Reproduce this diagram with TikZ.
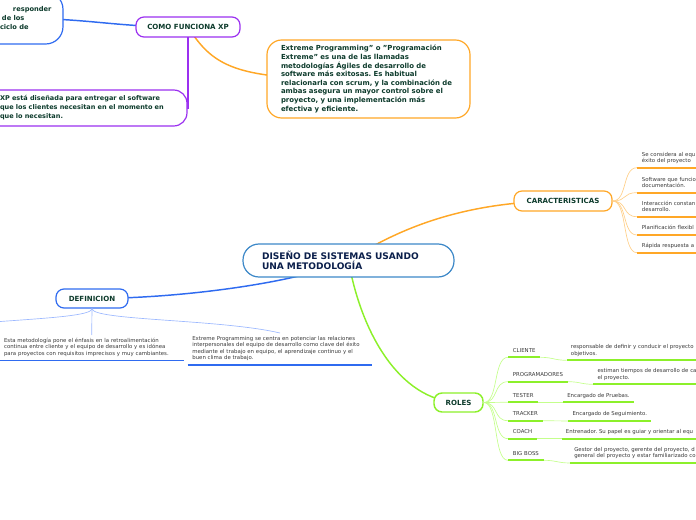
\documentclass[tikz,border=0pt]{standalone}
\usepackage{fontspec}
\setmainfont{DejaVu Sans}
\usetikzlibrary{backgrounds}
\frenchspacing

\definecolor{navy}{HTML}{0B1F4B}
\definecolor{inkgreen}{HTML}{0D3B2C}
\definecolor{txtgray}{HTML}{3A3A3A}
\definecolor{cenblue}{HTML}{3C88C8}
\definecolor{xpblue}{HTML}{2F6BF0}
\definecolor{xppurple}{HTML}{9B30F0}
\definecolor{xporange}{HTML}{FFA726}
\definecolor{xplime}{HTML}{8CF02A}
\definecolor{paleorange}{HTML}{FFD08A}
\definecolor{palelime}{HTML}{C4FF8C}
\definecolor{paleblue}{HTML}{9DB9FF}

\tikzset{
  hub/.style={draw, fill=white, line width=0.9pt, rounded corners=6pt, inner sep=0pt,
    text=inkgreen, font=\fontsize{5.3}{6.5}\selectfont\bfseries},
  note/.style={draw, fill=white, line width=0.9pt, align=left, inner ysep=0pt,
    text=inkgreen, font=\fontsize{5.2}{6.45}\selectfont\bfseries},
  leaf/.style={align=left, inner ysep=2.1pt, execute at end node={\strut},
    text=txtgray, font=\fontsize{4.05}{4.9}\selectfont},
  limb/.style={line width=1.1pt},
  twig/.style={line width=0.5pt},
  uline/.style={line width=1.3pt}
}

\begin{document}
\begin{tikzpicture}[x=0.75pt,y=-0.75pt]
    \useasboundingbox (0,0) rectangle (696,520);
    \clip (0,0) rectangle (696,520);

    % 中心
    \node[hub, draw=cenblue, text=navy, font=\fontsize{6.8}{7.7}\selectfont\bfseries,
      align=left, text width=129.75pt, inner xsep=14.25pt, minimum height=24.75pt,
      rounded corners=12pt] (cen) at (348.5,260.5) {DISEÑO DE SISTEMAS USANDO\\UNA METODOLOGÍA};

    % 主题
    \node[hub, draw=xppurple, minimum width=78pt, minimum height=15pt] (como) at (188,27) {COMO FUNCIONA XP};
    \node[hub, draw=xporange, minimum width=73.5pt, minimum height=15pt] (car) at (563,201) {CARACTERISTICAS};
    \node[hub, draw=xpblue, minimum width=54pt, minimum height=14.25pt] (def) at (92,298.5) {DEFINICION};
    \node[hub, draw=xplime, line width=1.1pt, minimum width=36.75pt, minimum height=14.25pt] (roles) at (458.5,402.5) {ROLES};

    % 说明框
    \node[note, draw=xpblue, rounded corners=13pt, text width=81.75pt, inner xsep=3pt,
      minimum height=39pt, font=\fontsize{5}{6.75}\selectfont\bfseries] (tl) at (4.5,18)
      {\hspace*{47.25pt}responder\\\hspace*{39pt}de los\\\hspace*{37.5pt}ciclo de};
    \node[note, draw=xppurple, rounded corners=10pt, text width=129.75pt, inner xsep=10.5pt,
      minimum height=27pt, font=\fontsize{4.9}{6.75}\selectfont\bfseries] (xp) at (86.5,108)
      {XP está diseñada para entregar el software\\que los clientes necesitan en el momento en\\que lo necesitan.};
    \node[note, draw=xporange, rounded corners=11pt, text width=131.25pt, inner xsep=10.5pt,
      minimum height=58.5pt] (ext) at (368.5,79)
      {Extreme Programming" o "Programación\\Extreme" es una de las llamadas\\metodologías Ágiles de desarrollo de\\software más exitosas. Es habitual\\relacionarla con scrum, y la combinación de\\ambas asegura un mayor control sobre el\\proyecto, y una implementación más\\efectiva y eficiente.};

    % 连线
    \begin{scope}[on background layer]
        \draw[limb, xporange] (cen.center) .. controls +(40,-25) and +(-110,0) .. (car.center);
        \draw[limb, xplime] (cen.center) .. controls +(12,70) and +(-60,-2) .. (roles.center);
        \draw[limb, xpblue] (cen.center) .. controls +(-50,22) and +(90,0) .. (def.center);
        \draw[limb, xpblue] (tl.center) .. controls +(90,0) and +(-80,0) .. (como.center);
        \draw[line width=1.5pt, xppurple] (como.center) |- (xp.center);
        \draw[limb, xporange] (como.center) .. controls +(27,43) and +(-128,1) .. (ext.center);
    \end{scope}

    % 特征
    \node[leaf, anchor=south west, text width=112.5pt, inner xsep=3.5pt] (c1) at (637,167.7) {Se considera al equ\\éxito del proyecto};
    \node[leaf, anchor=south west, text width=112.5pt, inner xsep=3.5pt] (c2) at (637,192.7) {Software que funcio\\documentación.};
    \node[leaf, anchor=south west, text width=112.5pt, inner xsep=3.5pt] (c3) at (637,216.7) {Interacción constan\\desarrollo.};
    \node[leaf, anchor=south west, text width=112.5pt, inner xsep=3.5pt] (c4) at (637,235) {Planificación flexibl};
    \node[leaf, anchor=south west, text width=112.5pt, inner xsep=3.5pt] (c5) at (637,252.7) {Rápida respuesta a};
    \foreach \i in {1,...,5} {
        \draw[twig, paleorange] (car.east) .. controls +(15,0) and +(-15,0) .. (c\i.south west);
        \draw[uline, xporange] (c\i.south west) -- (c\i.south east);
    }

    % 定义
    \coordinate (dx) at (-96,333);
    \node[leaf, anchor=north, text width=131.5pt, inner xsep=3pt] (d1) at (91.7,335)
      {Esta metodología pone el énfasis en la retroalimentación\\continua entre cliente y el equipo de desarrollo y es idónea\\para proyectos con requisitos imprecisos y muy cambiantes.};
    \node[leaf, anchor=north, text width=131.5pt, inner xsep=3.3pt] (d2) at (280,333)
      {Extreme Programming se centra en potenciar las relaciones\\interpersonales del equipo de desarrollo como clave del éxito\\mediante el trabajo en equipo, el aprendizaje continuo y el\\buen clima de trabajo.};
    \draw[twig, paleblue] (def.south) -- (d1.north);
    \draw[twig, paleblue] (def.south) .. controls +(0,12) and +(-60,-14) .. (d2.north);
    \draw[twig, paleblue] (def.south) .. controls +(0,12) and +(60,-14) .. (dx);
    \draw[uline, xpblue] (d1.south west) -- (d1.south east);
    \draw[uline, xpblue] (d2.south west) -- (d2.south east);

    % 角色
    \node[leaf, anchor=south west, inner xsep=3.5pt] (r1) at (508,357.3) {CLIENTE};
    \node[leaf, anchor=south west, inner xsep=3.5pt] (r2) at (508,381.7) {PROGRAMADORES};
    \node[leaf, anchor=south west, inner xsep=3.5pt] (r3) at (508,402.3) {TESTER};
    \node[leaf, anchor=south west, inner xsep=3.5pt] (r4) at (508,420.7) {TRACKER};
    \node[leaf, anchor=south west, inner xsep=3.5pt] (r5) at (508,438.7) {COACH};
    \node[leaf, anchor=south west, inner xsep=3.5pt] (r6) at (508,460.3) {BIG BOSS};

    \node[leaf, anchor=south west, text width=112.5pt, inner xsep=3pt] (q1) at (566.7,360.3) {responsable de definir y conducir el proyecto\\objetivos.};
    \node[leaf, anchor=south west, text width=112.5pt, inner xsep=3pt] (q2) at (593.3,384.3) {estiman tiempos de desarrollo de ca\\el proyecto.};
    \node[leaf, anchor=south west, inner xsep=3pt] (q3) at (563,402.3) {Encargado de Pruebas.};
    \node[leaf, anchor=south west, inner xsep=3pt] (q4) at (568.3,421) {Encargado de Seguimiento.};
    \node[leaf, anchor=south west, text width=112.5pt, inner xsep=3pt] (q5) at (561.7,438.7) {Entrenador. Su papel es guiar y orientar al equ};
    \node[leaf, anchor=south west, text width=112.5pt, inner xsep=3pt] (q6) at (570,463) {Gestor del proyecto, gerente del proyecto, d\\general del proyecto y estar familiarizado co};

    \foreach \i in {1,...,6} {
        \draw[twig, palelime] (roles.east) .. controls +(15,0) and +(-15,0) .. (r\i.south west);
        \draw[twig, palelime] (r\i.south east) .. controls +(12,0) and +(-12,0) .. (q\i.south west);
        \draw[uline, xplime] (r\i.south west) -- (r\i.south east);
        \draw[uline, xplime] (q\i.south west) -- (q\i.south east);
    }
\end{tikzpicture}
\end{document}
